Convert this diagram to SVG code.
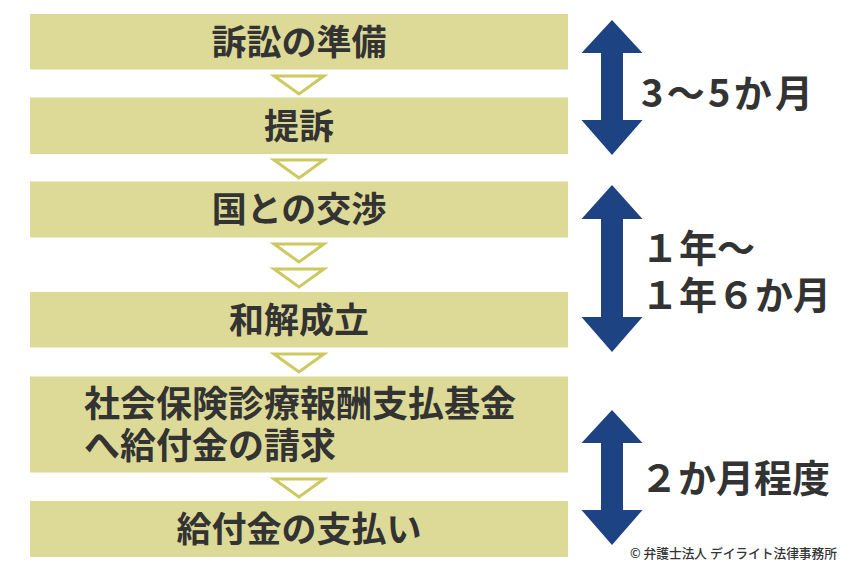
<svg xmlns="http://www.w3.org/2000/svg" width="850" height="570" viewBox="0 0 850 570">
<style>
.box{fill:#dcda96}
.tri{fill:#ffffff;stroke:#cdc85f;stroke-width:3;stroke-linejoin:miter}
.arr{fill:#1e4382}
.bt{font-family:"Noto Sans CJK JP","Noto Sans",sans-serif;font-weight:bold;font-size:35px;fill:#333333}
.rt{font-family:"Noto Sans CJK JP","Noto Sans",sans-serif;font-weight:bold;font-size:38px;fill:#333333}
.cp{font-family:"Noto Sans CJK JP","Noto Sans",sans-serif;font-weight:500;font-size:13px;fill:#333333}
</style>
<rect width="850" height="570" fill="#ffffff"/>
<g id="n1"><rect class="box" x="30" y="14" width="538" height="55.5"/><text class="bt" x="299" y="55" text-anchor="middle">訴訟の準備</text></g>
<g id="n2"><rect class="box" x="30" y="97.5" width="538" height="56.5"/><text class="bt" x="299" y="139" text-anchor="middle">提訴</text></g>
<g id="n3"><rect class="box" x="30" y="181.5" width="538" height="56"/><text class="bt" x="299" y="222" text-anchor="middle">国との交渉</text></g>
<g id="n4"><rect class="box" x="30" y="292" width="538" height="55.5"/><text class="bt" x="299" y="333" text-anchor="middle">和解成立</text></g>
<g id="n5"><rect class="box" x="30" y="376.5" width="538" height="96"/><text class="bt" x="84" y="417" style="font-size:36px">社会保険診療報酬支払基金</text><text class="bt" x="84" y="459" style="font-size:36px">へ給付金の請求</text></g>
<g id="n6"><rect class="box" x="30" y="501" width="538" height="56"/><text class="bt" x="299" y="542" text-anchor="middle">給付金の支払い</text></g>
<g id="connectors">
<polygon class="tri" points="274,76 324,76 299,94"/>
<polygon class="tri" points="274,160 324,160 299,178"/>
<polygon class="tri" points="274,244 324,244 299,262"/>
<polygon class="tri" points="274,269 324,269 299,287"/>
<polygon class="tri" points="274,354 324,354 299,372"/>
<polygon class="tri" points="274,479 324,479 299,497"/>
</g>
<g id="span1"><path class="arr" d="M612,20 L642.5,53 L623,53 L623,120 L642.5,120 L612,155 L581.5,120 L601,120 L601,53 L581.5,53 Z"/><text class="rt" x="641" y="107" textLength="172" lengthAdjust="spacing">3〜5か月</text></g>
<g id="span2"><path class="arr" d="M612,185 L642.5,219 L623,219 L623,317 L642.5,317 L612,352 L581.5,317 L601,317 L601,219 L581.5,219 Z"/><text class="rt" x="641" y="262">１年〜</text><text class="rt" x="641" y="309">１年６か月</text></g>
<g id="span3"><path class="arr" d="M612,410 L642.5,443 L623,443 L623,510 L642.5,510 L612,545 L581.5,510 L601,510 L601,443 L581.5,443 Z"/><text class="rt" x="640" y="492">２か月程度</text></g>
<text class="cp" x="630" y="558" textLength="207" lengthAdjust="spacingAndGlyphs">© 弁護士法人 デイライト法律事務所</text>
</svg>
